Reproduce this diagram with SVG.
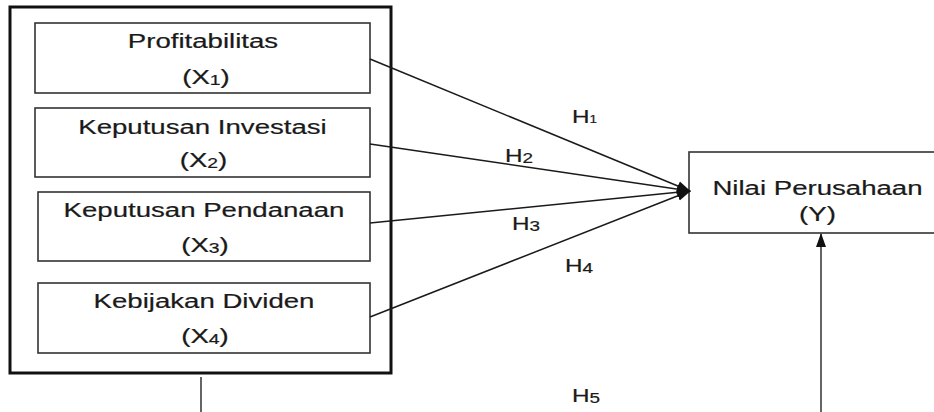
<svg xmlns="http://www.w3.org/2000/svg" width="934" height="412" viewBox="0 0 934 412">
<style>
text{font-family:"Liberation Sans",Arial,sans-serif;fill:#1a1a1a;stroke:#1a1a1a;stroke-width:0.2;text-anchor:middle}
.lbl{font-size:20px}
.h{font-size:18px}
.sub{font-size:14px}
.box{fill:#fff;stroke:#333;stroke-width:1.6}
.outer{fill:none;stroke:#111;stroke-width:3}
.ln{fill:none;stroke:#1a1a1a;stroke-width:1.5}
.vl{fill:none;stroke:#555;stroke-width:1.8}
</style>
<defs>
<marker id="ah" markerUnits="userSpaceOnUse" markerWidth="14" markerHeight="12" viewBox="0 0 14 12" refX="13" refY="6" orient="auto">
<path d="M0,1 L14,6 L0,11 Z" fill="#111"/>
</marker>
</defs>
<g id="group-x">
<rect class="outer" x="10" y="7" width="381" height="366"/>
</g>
<g id="x1">
<rect class="box" x="35" y="23" width="335" height="70"/>
<text class="lbl" transform="translate(203,48) scale(1.38,1)">Profitabilitas</text>
<text class="lbl" transform="translate(206,84) scale(1.38,1)">(X<tspan class="sub" dy="1">1</tspan><tspan dy="-1">)</tspan></text>
</g>
<g id="x2">
<rect class="box" x="35" y="108" width="335" height="69"/>
<text class="lbl" transform="translate(202.5,134) scale(1.38,1)">Keputusan Investasi</text>
<text class="lbl" transform="translate(203.5,167) scale(1.38,1)">(X<tspan class="sub" dy="1">2</tspan><tspan dy="-1">)</tspan></text>
</g>
<g id="x3">
<rect class="box" x="38" y="192" width="332" height="69"/>
<text class="lbl" transform="translate(204,217) scale(1.38,1)">Keputusan Pendanaan</text>
<text class="lbl" transform="translate(205,252) scale(1.38,1)">(X<tspan class="sub" dy="1">3</tspan><tspan dy="-1">)</tspan></text>
</g>
<g id="x4">
<rect class="box" x="38" y="283" width="332" height="70"/>
<text class="lbl" transform="translate(204,308) scale(1.38,1)">Kebijakan Dividen</text>
<text class="lbl" transform="translate(205,343) scale(1.38,1)">(X<tspan class="sub" dy="1">4</tspan><tspan dy="-1">)</tspan></text>
</g>
<g id="y">
<rect class="box" x="689" y="152" width="246" height="81"/>
<text class="lbl" transform="translate(817.5,195) scale(1.38,1)">Nilai Perusahaan</text>
<text class="lbl" transform="translate(817.5,221) scale(1.38,1)">(Y)</text>
</g>
<g id="connectors">
<line class="ln" x1="370" y1="59" x2="690" y2="191" marker-end="url(#ah)"/>
<line class="ln" x1="370" y1="144" x2="690" y2="191" marker-end="url(#ah)"/>
<line class="ln" x1="370" y1="223" x2="690" y2="191" marker-end="url(#ah)"/>
<line class="ln" x1="370" y1="317" x2="690" y2="191" marker-end="url(#ah)"/>
<path class="vl" d="M201,377 V415 H821 V234" marker-end="url(#ah)"/>
<text class="h" transform="translate(584.5,123) scale(1.35,1)">H<tspan font-size="10">1</tspan></text>
<text class="h" transform="translate(519,162) scale(1.35,1)">H<tspan class="sub" dy="1">2</tspan></text>
<text class="h" transform="translate(526,230) scale(1.35,1)">H<tspan class="sub" dy="1">3</tspan></text>
<text class="h" transform="translate(579,272) scale(1.35,1)">H<tspan class="sub" dy="1">4</tspan></text>
<text class="h" transform="translate(586,402) scale(1.35,1)">H<tspan class="sub" dy="1">5</tspan></text>
</g>
</svg>
